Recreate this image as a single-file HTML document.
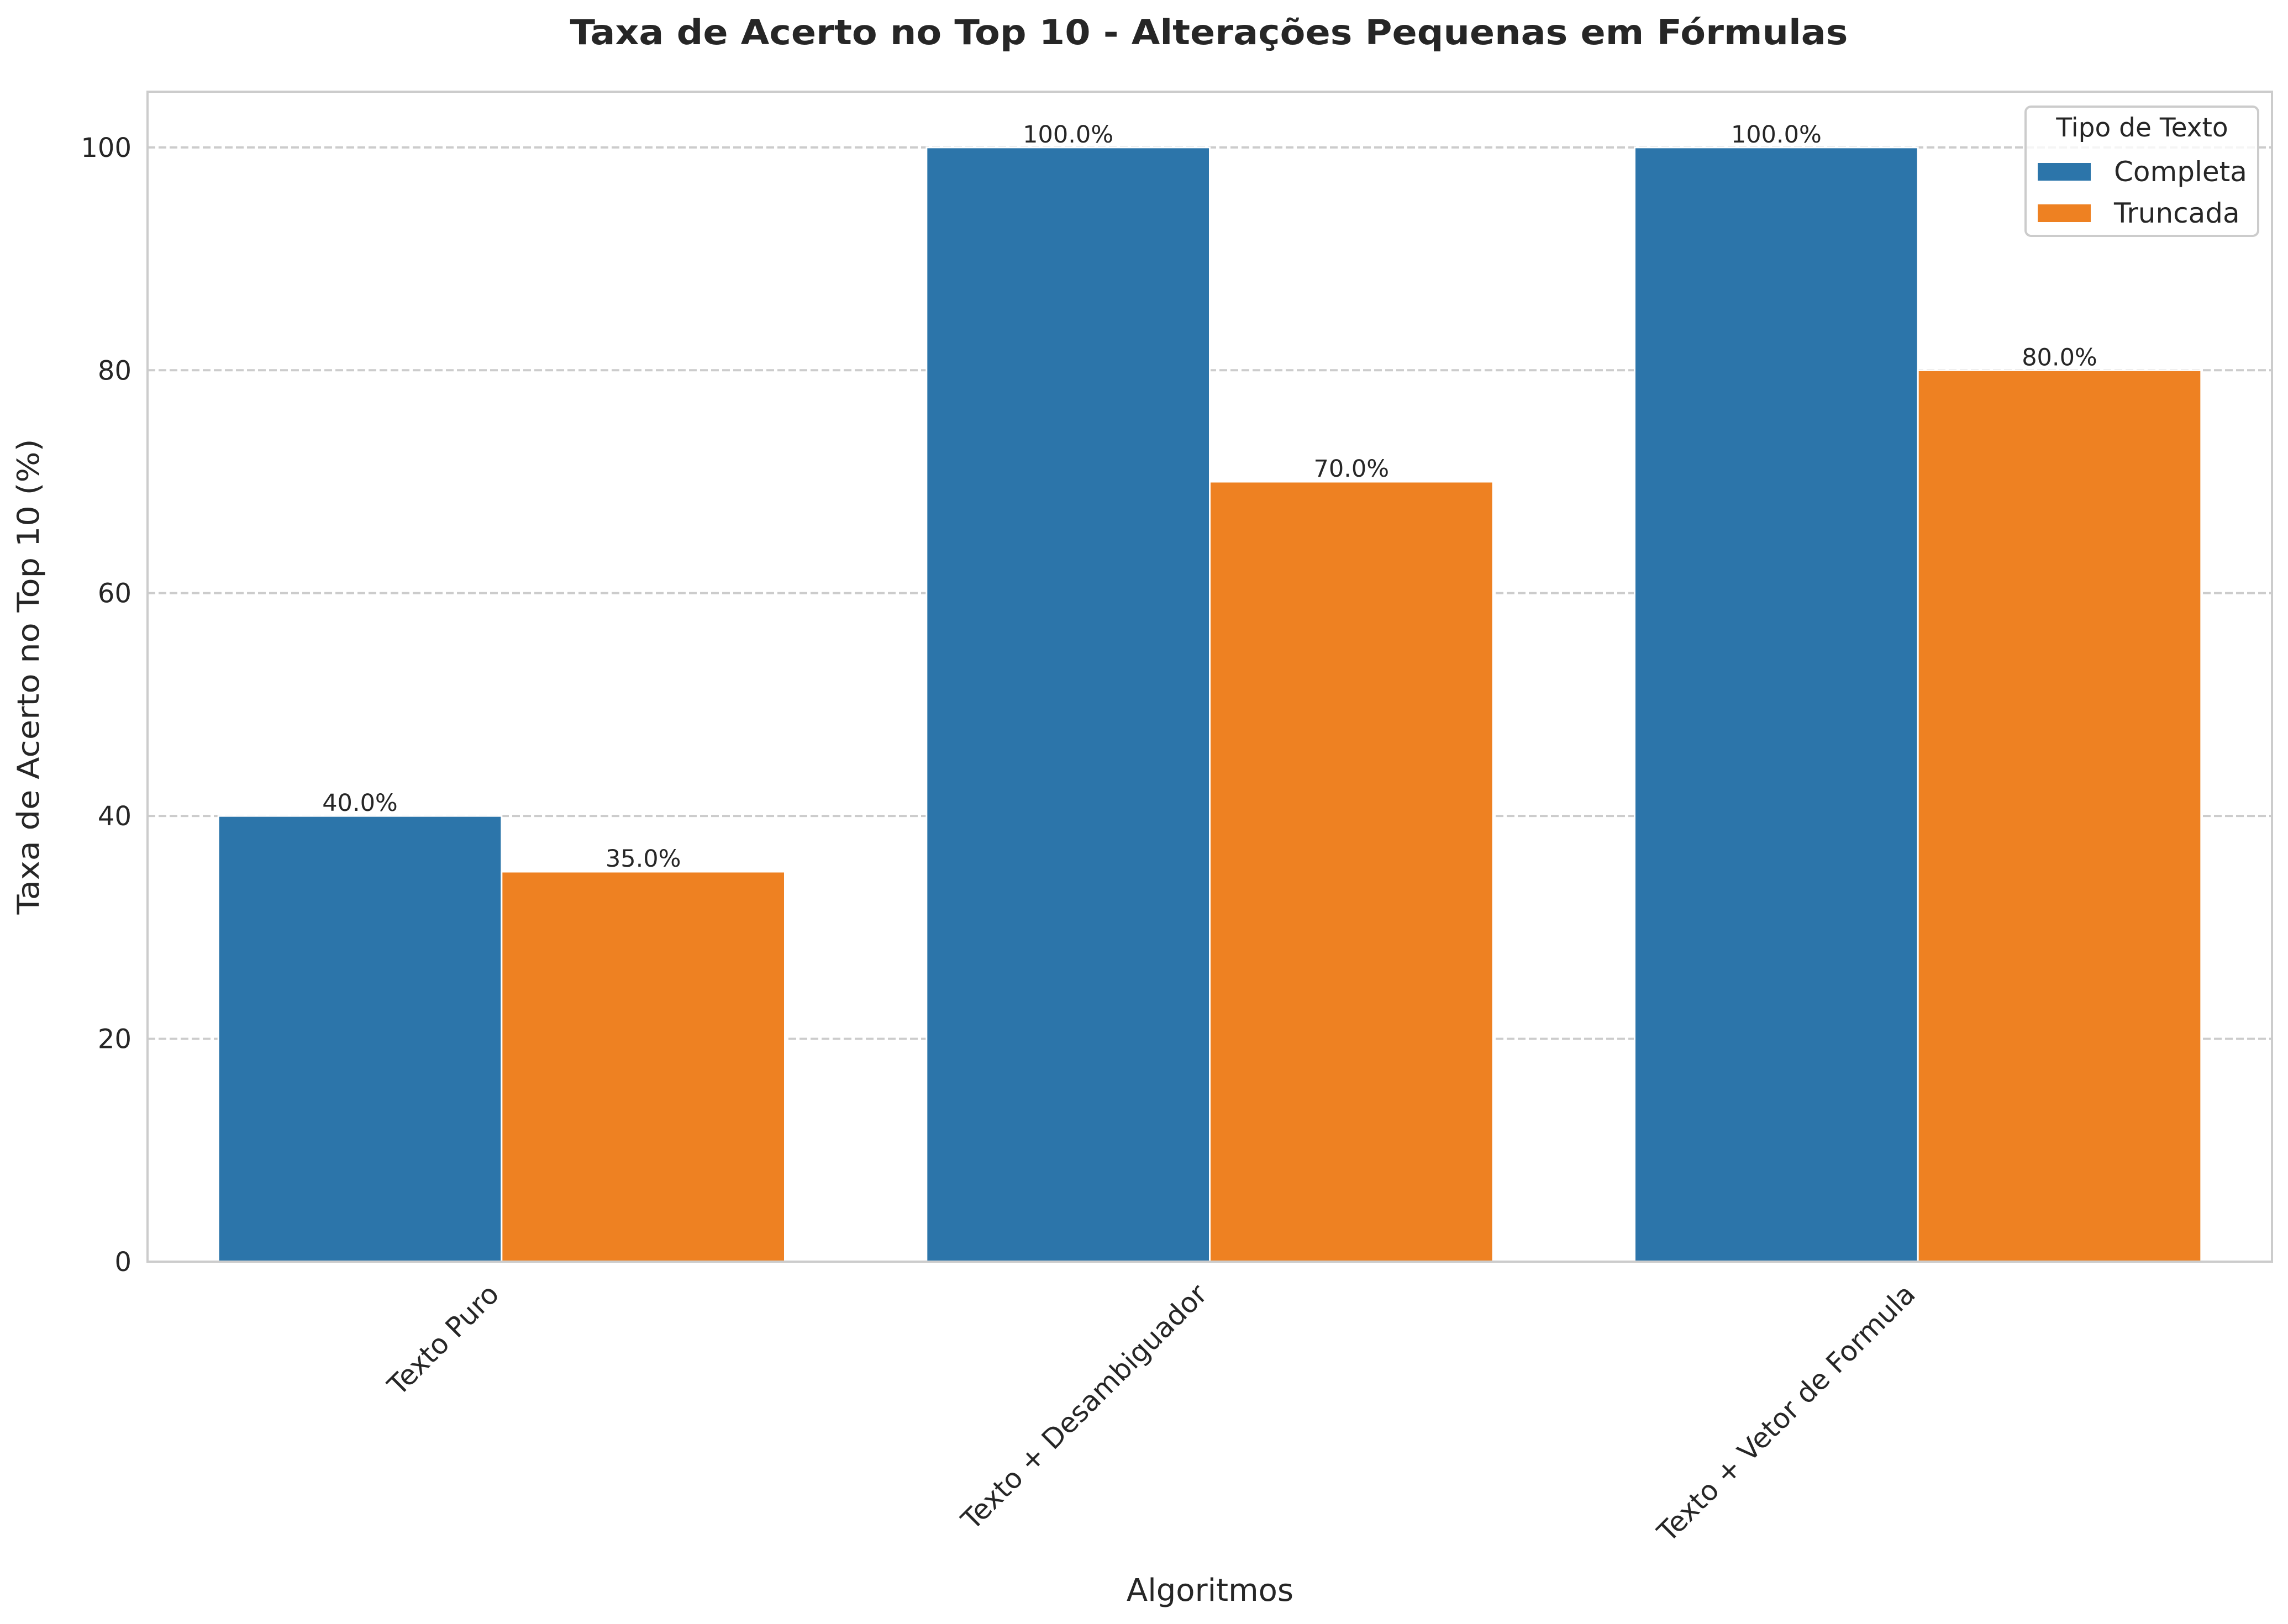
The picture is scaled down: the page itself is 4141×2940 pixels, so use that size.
<!DOCTYPE html>
<html><head><meta charset="utf-8"><style>
html,body{margin:0;padding:0;background:#fff}
svg{display:block;font-family:"DejaVu Sans","Liberation Sans",sans-serif}
</style></head><body>
<svg id="chart" width="4141" height="2940" viewBox="0 0 4141 2940" xmlns="http://www.w3.org/2000/svg">
<rect x="0" y="0" width="4141" height="2940" fill="#fff"/>
<g id="grid"></g>
<g id="bars"></g>
<g id="labels"></g>
<rect x="267" y="166" width="3845" height="2118" fill="none" stroke="#cccccc" stroke-width="4"/>
<g id="yticks"></g>
<g id="xticks"></g>
<text x="2188" y="80" text-anchor="middle" font-size="62" font-weight="bold" fill="#262626" textLength="2313" lengthAdjust="spacingAndGlyphs">Taxa de Acerto no Top 10 - Alterações Pequenas em Fórmulas</text>
<text transform="translate(70,1225) rotate(-90)" text-anchor="middle" font-size="54" fill="#262626" textLength="861" lengthAdjust="spacingAndGlyphs">Taxa de Acerto no Top 10 (%)</text>
<text x="2190" y="2898" text-anchor="middle" font-size="56" fill="#262626">Algoritmos</text>
<g>
<rect x="3666" y="193" width="421" height="234" rx="10" fill="#fff" fill-opacity="0.8" stroke="#cccccc" stroke-width="4"/>
<text x="3877" y="247" text-anchor="middle" font-size="47" fill="#262626">Tipo de Texto</text>
<rect x="3688" y="295" width="96" height="32" fill="#2c75aa"/>
<text x="3826" y="328" font-size="50" fill="#262626">Completa</text>
<rect x="3688" y="370" width="96" height="32" fill="#ee8122"/>
<text x="3826" y="403" font-size="50" fill="#262626">Truncada</text>
</g>
</svg>
<script>
const categories = ["Texto Puro", "Texto + Desambiguador", "Texto + Vetor de Formula"];
const completa = [40, 100, 100];
const truncada = [35, 70, 80];
const yTicks = [0, 20, 40, 60, 80, 100];

const NS = "http://www.w3.org/2000/svg";
const L = 267, R = 4112, T = 166, B = 2284, YMAX = 105;
function xScale(i){ return L + (i + 0.5) * (R - L) / categories.length; }
function yScale(v){ return B - v * (B - T) / YMAX; }
const step = (R - L) / categories.length;
const bw = step * 0.4;
function mk(tag, attrs, parent){ const e = document.createElementNS(NS, tag); for (const k in attrs) e.setAttribute(k, attrs[k]); parent.appendChild(e); return e; }
const grid = document.getElementById('grid'), yt = document.getElementById('yticks');
yTicks.forEach(v => {
  const y = yScale(v);
  const g = mk('line', {x1:L, x2:R, y1:y, y2:y, stroke:'#cccccc', 'stroke-width':4, 'stroke-dasharray':'14,6'}, grid);
  
  
  const t = mk('text', {x:238, y:y+17, 'text-anchor':'end', 'font-size':48, fill:'#262626'}, yt);
  t.textContent = v;
  
  
});
const bars = document.getElementById('bars'), lab = document.getElementById('labels'), xt = document.getElementById('xticks');
const series = [[completa, '#2c75aa', 'completa'], [truncada, '#ee8122', 'truncada']];
categories.forEach((c, i) => {
  series.forEach(([vals, col, nm], s) => {
    const x0 = xScale(i) - bw + s * bw;
    const y = yScale(vals[i]);
    const r = mk('rect', {x:x0, y:y, width:bw, height:B - y, fill:col, stroke:'#fff', 'stroke-width':3}, bars);
    
    
    const t = mk('text', {x:x0 + bw/2, y:y - 9, 'text-anchor':'middle', 'font-size':43, fill:'#262626'}, lab);
    t.textContent = vals[i].toFixed(1) + '%';
    
    
  });
  const cx = xScale(i);
  const t = mk('text', {transform:'translate(' + (cx - 28) + ',' + (B + 36) + ') rotate(-45)', 'text-anchor':'end', 'font-size':50, fill:'#262626', 'dominant-baseline':'hanging'}, xt);
  t.textContent = c;
  
  
});
</script>
</body></html>
